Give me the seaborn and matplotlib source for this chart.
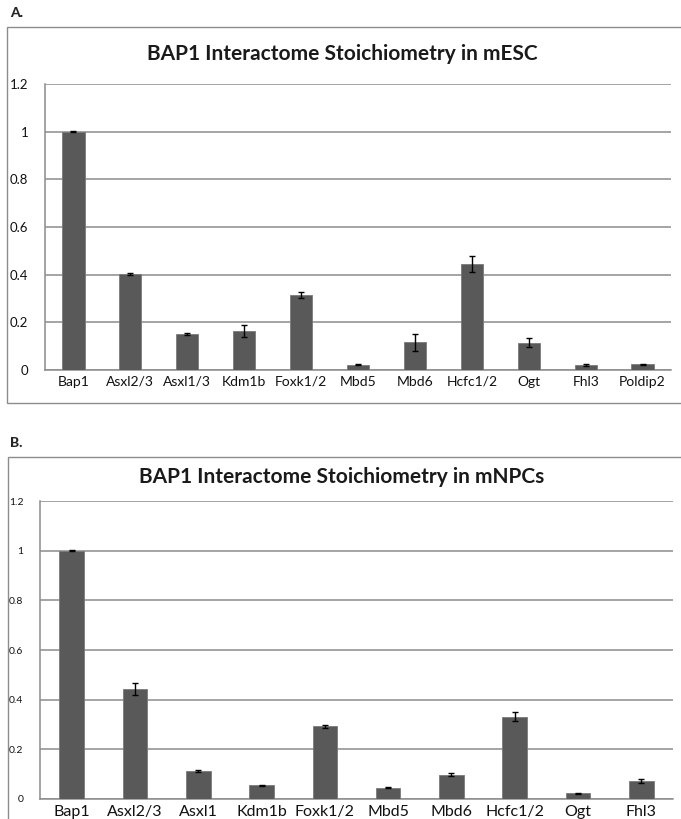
import numpy as np
import pandas as pd
import matplotlib
matplotlib.use("Agg")
import matplotlib.pyplot as plt
from matplotlib.patches import Rectangle
from matplotlib.ticker import FuncFormatter, FixedLocator
import seaborn as sns

# ---- data ----
esc_proteins = ["Bap1", "Asxl2/3", "Asxl1/3", "Kdm1b", "Foxk1/2", "Mbd5", "Mbd6",
                "Hcfc1/2", "Ogt", "Fhl3", "Poldip2"]
esc_values = [1.0, 0.402, 0.151, 0.165, 0.316, 0.022, 0.116, 0.446, 0.115, 0.021, 0.024]
esc_errors = [0.002, 0.005, 0.005, 0.025, 0.012, 0.003, 0.035, 0.034, 0.018, 0.005, 0.002]

npc_proteins = ["Bap1", "Asxl2/3", "Asxl1", "Kdm1b", "Foxk1/2", "Mbd5", "Mbd6",
                "Hcfc1/2", "Ogt", "Fhl3"]
npc_values = [1.0, 0.442, 0.112, 0.055, 0.292, 0.046, 0.098, 0.332, 0.023, 0.073]
npc_errors = [0.001, 0.024, 0.004, 0.003, 0.007, 0.002, 0.006, 0.018, 0.002, 0.008]

y_ticks = [0, 0.2, 0.4, 0.6, 0.8, 1.0, 1.2]

title_a = "BAP1 Interactome Stoichiometry in mESC"
title_b = "BAP1 Interactome Stoichiometry in mNPCs"

sns.set_style("white")
plt.rcParams["font.family"] = ["Lato", "DejaVu Sans"]

W, H = 681, 819
fig = plt.figure(figsize=(W / 100, H / 100), dpi=100)

BAR = "#595959"
GRID = "#8c8c8c"


def fx(px):
    return px / W


def fy(py):
    return 1 - py / H


def panel(rect, names, vals, errs, title, title_y, xfs, yfs):
    l, t, r, b = rect
    ax = fig.add_axes([fx(l), fy(b), fx(r) - fx(l), fy(t) - fy(b)])
    df = pd.DataFrame({"protein": names, "value": vals})
    sns.barplot(data=df, x="protein", y="value", ax=ax, color=BAR,
                saturation=1, width=0.39, errorbar=None,
                edgecolor="#7a7a7a", linewidth=0.6, zorder=3)
    ax.errorbar(np.arange(len(names)), vals, yerr=errs, fmt="none",
                ecolor="black", elinewidth=1.0, capsize=2.5, capthick=1.0, zorder=4)
    n = len(names)
    ax.set_xlim(-0.5, n - 0.5)
    ax.set_ylim(0, 1.2)
    ax.set_yticks(y_ticks)
    ax.yaxis.set_major_formatter(FuncFormatter(lambda v, p: f"{v:g}"))
    ax.grid(axis="y", color=GRID, linewidth=1.1, zorder=0)
    ax.set_axisbelow(True)
    for s in ["top", "right"]:
        ax.spines[s].set_visible(False)
    for s in ["left", "bottom"]:
        ax.spines[s].set_color(GRID)
        ax.spines[s].set_linewidth(1.1)
    ax.set_xlabel("")
    ax.set_ylabel("")
    ax.tick_params(axis="x", which="major", length=0, pad=4, labelsize=xfs, colors="#111111")
    ax.xaxis.set_minor_locator(FixedLocator(np.arange(-0.5, n, 1.0)))
    ax.tick_params(axis="x", which="minor", length=4, color=GRID, width=1)
    ax.tick_params(axis="y", length=4, color=GRID, width=1, pad=8, labelsize=yfs,
                   labelcolor="#111111")
    fig.text(fx(342), fy(title_y), title, ha="center", va="center",
             fontsize=15, fontweight="bold", color="#1a1a1a")
    return ax


# boxes
fig.patches.append(Rectangle((fx(7), fy(403)), fx(700) - fx(7), fy(27) - fy(403),
                             transform=fig.transFigure, fill=False,
                             edgecolor="#8c8c8c", linewidth=1.0))
fig.patches.append(Rectangle((fx(8), fy(840)), fx(700) - fx(8), fy(457) - fy(840),
                             transform=fig.transFigure, fill=False,
                             edgecolor="#8c8c8c", linewidth=1.0))

fig.text(fx(10), fy(13), "A.", ha="left", va="center", fontsize=10, fontweight="black")
fig.text(fx(10), fy(443), "B.", ha="left", va="center", fontsize=10, fontweight="black")

panel((45, 84, 671, 370), esc_proteins, esc_values, esc_errors, title_a, 54, 10, 9.5)
panel((40, 501, 673, 799), npc_proteins, npc_values, npc_errors, title_b, 477, 11.5, 7.5)

fig.savefig("out.png", dpi=100)
